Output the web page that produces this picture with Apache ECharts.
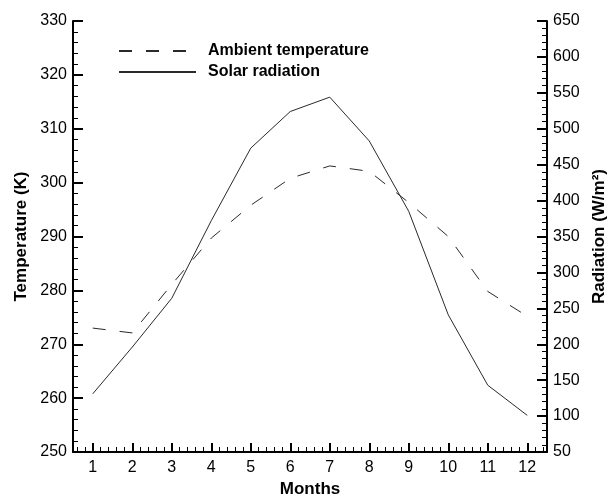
<!DOCTYPE html>
<html lang="en">
<head>
    <meta charset="UTF-8">
    <title>Temperature and radiation</title>
    <script src="https://cdn.jsdelivr.net/npm/echarts@6/dist/echarts.min.js"></script>
    <style>
        html, body { margin: 0; padding: 0; background: #fff; }
    </style>
</head>
<body>
<div id="chart" style="width: 608px;height:495px"></div>
<script>
    var chartDom = document.getElementById('chart');
    var myChart = echarts.init(chartDom);

    // data
    var months = [1, 2, 3, 4, 5, 6, 7, 8, 9, 10, 11, 12];
    var ambient = [273.0, 272.1, 281.1, 289.7, 295.8, 300.8, 303.1, 302.1, 296.3, 290.0, 279.8, 275.2];
    var radiation = [131, 196, 264, 372, 473, 524, 544, 483, 385, 241, 143, 101];

    var font = 'Liberation Sans, Arial, sans-serif';
    var lineColor = '#2a2a2a';

    // minor ticks on the month axis, every 0.2
    var minorMonths = [];
    for (var m = 0; m <= 12; m++) {
        [0.2, 0.4, 0.6, 0.8].forEach(function (f) {
            var v = Math.round((m + f) * 10) / 10;
            if (v > 0.5 && v < 12.5) minorMonths.push(v);
        });
    }

    function pairs(vals) {
        return months.map(function (mo, i) { return [mo, vals[i]]; });
    }

    function axisLine() {
        return { show: true, onZero: false, lineStyle: { color: '#000', width: 2 } };
    }
    function majorTick(len) {
        return { show: true, inside: true, length: len, lineStyle: { color: '#000', width: 2 } };
    }
    function minorTick() {
        return { show: true, splitNumber: 5, length: 5, lineStyle: { color: '#000', width: 1 } };
    }
    var nameStyle = { color: '#000', fontSize: 17, fontWeight: 'bold', fontFamily: font };

    var option = {
        backgroundColor: '#ffffff',
        animation: false,
        grid: {
            left: 73,
            right: 61,
            top: 21,
            bottom: 43,
            outerBoundsMode: 'none'
        },
        legend: {
            left: 118,
            top: 43,
            padding: 0,
            orient: 'vertical',
            itemWidth: 77,
            itemHeight: 14,
            itemGap: 5,
            itemStyle: { opacity: 0 },
            textStyle: {
                color: '#000',
                fontSize: 16,
                fontWeight: 'bold',
                fontFamily: font,
                padding: [0, 0, 0, 7]
            },
            data: ['Ambient temperature', 'Solar radiation']
        },
        xAxis: [{
            type: 'value',
            min: 0.5,
            max: 12.5,
            name: 'Months',
            nameLocation: 'middle',
            nameGap: 26,
            nameTextStyle: nameStyle,
            axisLine: axisLine(),
            axisTick: {
                show: true,
                inside: true,
                length: 9,
                lineStyle: { color: '#000', width: 2 },
                customValues: months
            },
            axisLabel: {
                margin: 8,
                customValues: months,
                color: '#000',
                fontSize: 16,
                fontFamily: font
            },
            splitLine: { show: false }
        }, {
            // minor ticks
            type: 'value',
            position: 'bottom',
            min: 0.5,
            max: 12.5,
            axisLine: { show: false, onZero: false },
            axisTick: {
                show: true,
                inside: true,
                length: 5,
                lineStyle: { color: '#000', width: 1 },
                customValues: minorMonths
            },
            axisLabel: { show: false, customValues: minorMonths },
            splitLine: { show: false }
        }],
        yAxis: [{
            type: 'value',
            min: 250,
            max: 330,
            interval: 10,
            position: 'left',
            name: 'Temperature (K)',
            nameLocation: 'middle',
            nameGap: 38,
            nameTextStyle: nameStyle,
            axisLine: axisLine(),
            axisTick: majorTick(10),
            minorTick: minorTick(),
            axisLabel: {
                margin: 6,
                color: '#000',
                fontSize: 16,
                fontFamily: font
            },
            splitLine: { show: false }
        }, {
            type: 'value',
            min: 50,
            max: 650,
            interval: 50,
            position: 'right',
            name: 'Radiation (W/m²)',
            nameLocation: 'middle',
            nameRotate: 90,
            nameGap: 34,
            nameTextStyle: nameStyle,
            axisLine: axisLine(),
            axisTick: majorTick(10),
            minorTick: minorTick(),
            axisLabel: {
                margin: 6,
                color: '#000',
                fontSize: 16,
                fontFamily: font
            },
            splitLine: { show: false }
        }],
        series: [{
            name: 'Ambient temperature',
            type: 'line',
            xAxisIndex: 0,
            yAxisIndex: 0,
            symbol: 'none',
            lineStyle: {
                color: lineColor,
                width: 1,
                type: [13, 14]
            },
            itemStyle: { color: lineColor },
            data: pairs(ambient)
        }, {
            name: 'Solar radiation',
            type: 'line',
            xAxisIndex: 0,
            yAxisIndex: 1,
            symbol: 'none',
            lineStyle: {
                color: lineColor,
                width: 1
            },
            itemStyle: { color: lineColor },
            data: pairs(radiation)
        }]
    };

    option && myChart.setOption(option);
</script>
</body>
</html>
